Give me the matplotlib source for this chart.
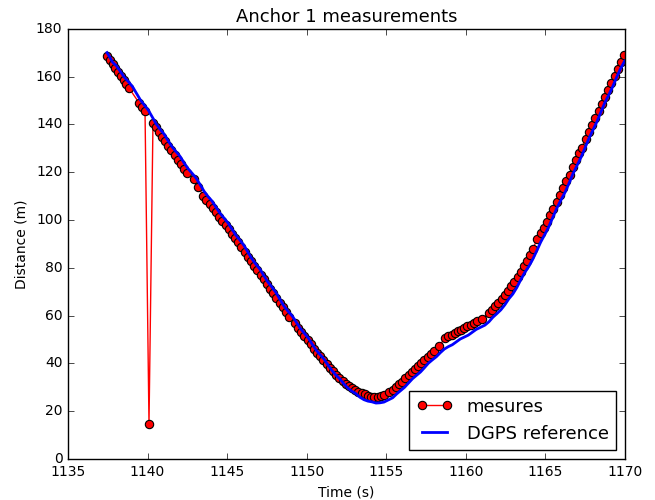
import numpy as np
import matplotlib
matplotlib.use("Agg")
import matplotlib.pyplot as plt

plt.style.use('classic')

# measured ranges to anchor 1 (time in s, distance in m)
t_mes = np.array([
    1137.45, 1137.62, 1137.8, 1137.97, 1138.14, 1138.31, 1138.49, 1138.66, 1138.83,
    1139.46, 1139.65, 1139.84, 1140.09, 1140.34, 1140.5, 1140.7, 1140.9, 1141.1,
    1141.3, 1141.5, 1141.7, 1141.9, 1142.1, 1142.3, 1142.5, 1142.9, 1143.2,
    1143.5, 1143.7, 1143.9, 1144.1, 1144.3, 1144.5, 1144.7, 1144.9, 1145.1,
    1145.3, 1145.5, 1145.7, 1145.9, 1146.1, 1146.3, 1146.5, 1146.7, 1146.9,
    1147.1, 1147.3, 1147.5, 1147.7, 1147.9, 1148.1, 1148.3, 1148.5, 1148.7,
    1148.9, 1149.25, 1149.45, 1149.65, 1149.85, 1150.05, 1150.25, 1150.45, 1150.65,
    1150.85, 1151.05, 1151.25, 1151.45, 1151.65, 1151.85, 1152.05, 1152.25, 1152.45,
    1152.65, 1152.85, 1153.05, 1153.25, 1153.45, 1153.65, 1153.85, 1154.05, 1154.25,
    1154.45, 1154.65, 1154.85, 1155.15, 1155.4, 1155.6, 1155.8, 1156.0, 1156.2,
    1156.4, 1156.6, 1156.8, 1157.0, 1157.2, 1157.4, 1157.6, 1157.8, 1158.0,
    1158.3, 1158.7, 1158.9, 1159.1, 1159.3, 1159.5, 1159.7, 1159.9, 1160.1,
    1160.3, 1160.5, 1160.7, 1161.0, 1161.45, 1161.65, 1161.85, 1162.05, 1162.25,
    1162.45, 1162.65, 1162.85, 1163.05, 1163.25, 1163.45, 1163.65, 1163.85, 1164.05,
    1164.2, 1164.5, 1164.7, 1164.9, 1165.1, 1165.3, 1165.5, 1165.7,
    1165.9, 1166.12, 1166.32, 1166.52, 1166.72, 1166.92, 1167.12, 1167.28,
    1167.53, 1167.74, 1167.94, 1168.14, 1168.34, 1168.54, 1168.74, 1168.94,
    1169.14, 1169.35, 1169.55, 1169.75, 1169.95])
d_mes = np.array([
    168.5, 167.0, 165.3, 163.6, 162.0, 160.3, 158.6, 156.9, 155.2,
    149.0, 147.2, 145.4, 14.6, 140.6, 138.7, 136.8, 134.9, 133.0,
    131.0, 129.1, 127.1, 125.2, 123.2, 121.3, 119.8, 117.0, 113.6,
    110.2, 108.4, 106.7, 104.9, 103.2, 101.4, 99.6, 97.9, 96.1,
    94.3, 92.5, 90.6, 88.6, 86.7, 84.7, 82.8, 80.8, 78.9,
    77.0, 75.1, 73.2, 71.2, 69.3, 67.4, 65.4, 63.5, 61.6,
    59.3, 56.9, 55.0, 53.2, 51.4, 49.6, 47.9, 46.2, 44.5,
    42.9, 41.3, 39.7, 38.2, 36.7, 35.2, 33.9, 32.6, 31.5,
    30.5, 29.6, 28.8, 28.1, 27.5, 27.0, 26.5, 26.1, 25.9,
    25.9, 26.2, 26.8, 27.9, 28.9, 30.0, 31.2, 32.4, 33.7,
    35.0, 36.3, 37.6, 38.9, 40.2, 41.5, 42.8, 44.0, 45.1,
    47.3, 50.5, 51.3, 52.0, 52.7, 53.4, 54.1, 54.8, 55.5,
    56.2, 56.9, 57.6, 58.6, 61.0, 62.3, 63.8, 65.3, 66.9,
    68.6, 70.4, 72.2, 74.1, 76.1, 78.3, 80.6, 83.0, 85.5,
    88.0, 92.0, 94.4, 96.8, 99.3, 101.9, 104.6, 107.4,
    110.3, 113.2, 116.1, 119.0, 122.0, 125.0, 128.0, 130.2,
    134.0, 136.9, 139.8, 142.7, 145.6, 148.5, 151.4, 154.3,
    157.2, 160.1, 163.0, 166.0, 168.8])

# DGPS reference distance
t_ref = np.array([
    1137.45, 1137.62, 1137.8, 1138.05, 1138.3, 1138.55, 1138.8, 1139.05, 1139.3,
    1139.55, 1139.8, 1140.05, 1140.3, 1140.55, 1140.8, 1141.05, 1141.3, 1141.55,
    1141.8, 1142.05, 1142.3, 1142.55, 1142.8, 1143.05, 1143.3, 1143.55, 1143.8,
    1144.05, 1144.3, 1144.55, 1144.8, 1145.05, 1145.3, 1145.55, 1145.8, 1146.05,
    1146.3, 1146.55, 1146.8, 1147.05, 1147.3, 1147.55, 1147.8, 1148.05, 1148.3,
    1148.55, 1148.8, 1149.08, 1149.35, 1149.6, 1149.85, 1150.1, 1150.35, 1150.6,
    1150.85, 1151.1, 1151.35, 1151.6, 1151.85, 1152.1, 1152.35, 1152.6, 1152.85,
    1153.1, 1153.35, 1153.6, 1153.85, 1154.1, 1154.35, 1154.6, 1154.85, 1155.1,
    1155.4, 1155.65, 1155.9, 1156.15, 1156.4, 1156.65, 1156.9, 1157.15, 1157.4,
    1157.65, 1157.9, 1158.15, 1158.4, 1158.65, 1158.9, 1159.15, 1159.4, 1159.65,
    1159.9, 1160.15, 1160.4, 1160.65, 1160.9, 1161.2, 1161.45, 1161.7, 1161.95,
    1162.2, 1162.45, 1162.7, 1162.95, 1163.2, 1163.45, 1163.7, 1163.95, 1164.2,
    1164.45, 1164.7, 1164.95, 1165.2, 1165.45, 1165.7, 1165.95, 1166.22, 1166.48,
    1166.73, 1166.98, 1167.23, 1167.48, 1167.73, 1167.98, 1168.23, 1168.48, 1168.73,
    1168.98, 1169.23, 1169.48, 1169.73, 1169.98])
d_ref = np.array([
    170.0, 168.2, 166.0, 164.4, 162.0, 159.6, 157.8, 155.8, 153.0,
    150.2, 148.0, 145.9, 143.0, 140.1, 137.8, 135.8, 133.0, 130.5,
    128.5, 126.5, 123.8, 121.4, 119.5, 117.5, 114.8, 112.0, 109.8,
    107.9, 105.3, 102.8, 100.8, 98.8, 96.2, 93.6, 91.6, 89.4,
    86.6, 83.8, 81.5, 79.5, 76.8, 74.1, 72.0, 69.8, 67.0,
    64.2, 62.0, 59.9, 57.2, 54.6, 52.6, 50.6, 48.0, 45.5,
    43.6, 41.7, 39.2, 36.9, 35.0, 33.4, 31.3, 29.6, 28.3,
    27.3, 25.8, 24.8, 24.2, 23.9, 23.4, 23.5, 23.8, 24.6,
    25.6, 27.2, 28.6, 30.0, 31.8, 33.6, 35.0, 36.4, 38.2,
    40.1, 41.5, 42.8, 44.5, 46.0, 47.0, 47.8, 49.0, 50.2,
    51.0, 51.8, 53.0, 54.2, 55.0, 56.0, 57.4, 59.3, 60.8,
    62.4, 64.5, 67.0, 69.0, 71.7, 75.0, 78.0, 80.5, 83.5,
    87.0, 90.7, 93.8, 97.0, 100.8, 104.7, 108.0, 111.4, 115.3,
    119.3, 122.7, 126.1, 130.0, 134.1, 137.5, 141.0, 145.0, 149.0,
    152.3, 155.8, 159.8, 163.4, 166.5])

fig = plt.figure(figsize=(6.55, 5.0), dpi=100, facecolor='white')
ax = fig.add_axes([0.1038, 0.082, 0.8504, 0.8606])

ax.plot(t_mes, d_mes, 'r-o', markersize=6, markeredgecolor='k',
        markeredgewidth=0.8, linewidth=1, label='mesures')
ax.plot(t_ref, d_ref, 'b-', linewidth=2, label='DGPS reference')

ax.set_xlim(1135, 1170)
ax.set_ylim(0, 180)
ax.set_xticks(np.arange(1135, 1171, 5))
ax.set_yticks(np.arange(0, 181, 20))
ax.ticklabel_format(useOffset=False)
ax.set_xlabel('Time (s)', fontsize=10)
ax.set_ylabel('Distance (m)', fontsize=10)
ax.set_title('Anchor 1 measurements', fontsize=13)
ax.tick_params(labelsize=10)
ax.legend(loc='lower right', fontsize=13, numpoints=2)

fig.savefig('out.png', dpi=100, facecolor='white')
